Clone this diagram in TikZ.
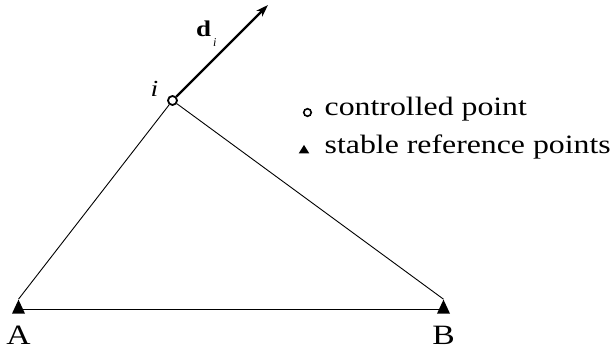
\documentclass[tikz,border=0pt]{standalone}
\usepackage{fontspec}
\setmainfont{Liberation Serif}
\usetikzlibrary{shapes.geometric,arrows.meta}
\newcommand\sxw[1]{\scalebox{1.2}[1]{#1}}
\begin{document}
\begin{tikzpicture}[x=1pt,y=-1pt,
  ctrl/.style={circle,draw,fill=white,line width=1.8pt,minimum size=9pt,inner sep=0pt},
  ctrlsmall/.style={circle,draw,fill=white,line width=1.6pt,minimum size=7.5pt,inner sep=0pt},
  refpt/.style={isosceles triangle,shape border rotate=90,isosceles triangle apex angle=50,
     minimum height=14pt,inner sep=0pt,fill=black},
  refsmall/.style={isosceles triangle,shape border rotate=90,isosceles triangle apex angle=64,
     minimum height=8.5pt,inner sep=0pt,fill=black},
  lbl/.style={font=\fontsize{26.5}{30}\selectfont,inner sep=0pt},
  ptlbl/.style={font=\fontsize{28}{32}\selectfont,inner sep=0pt},
  side/.style={line width=0.9pt}]
\useasboundingbox (0,0) rectangle (614,352);
\node[refpt] (A) at (18.5,309.5) {};
\node[refpt] (B) at (443.5,309.5) {};
\node[ctrl] (i) at (172.5,100.5) {};
\coordinate (tip) at (268,5);
\draw[side] (A.apex) -- (i);
\draw[side] (B.apex) -- (i);
\draw[line width=1.1pt] (A) -- (B);
\draw[line width=2.3pt,-{Stealth[length=12pt,width=8pt,inset=3pt]}] (i) -- (tip);
\node[ptlbl,anchor=base] (la) at (18.5,345) {\sxw{A}};
\node[ptlbl,anchor=base] (lb) at (443.5,345) {\sxw{B}};
\node[inner sep=0pt,anchor=base,font=\fontsize{23}{26}\selectfont\itshape] (li) at (154.5,96.5) {\sxw{i}};
\node[inner sep=0pt,anchor=base west,font=\fontsize{22.5}{26}\selectfont\bfseries] (ld) at (196,36.7) {\sxw{d}};
\node[inner sep=0pt,anchor=base west,font=\fontsize{12}{14}\selectfont\itshape] (ldi) at (213,46.5) {i};
\node[ctrlsmall] (lc) at (307.5,112.5) {};
\node[lbl,anchor=base west] (lct) at (324.5,116) {\sxw{controlled point}};
\node[refsmall] (lr) at (304,150.5) {};
\node[lbl,anchor=base west] (lrt) at (324.5,154) {\sxw{stable reference points}};
\end{tikzpicture}
\end{document}
